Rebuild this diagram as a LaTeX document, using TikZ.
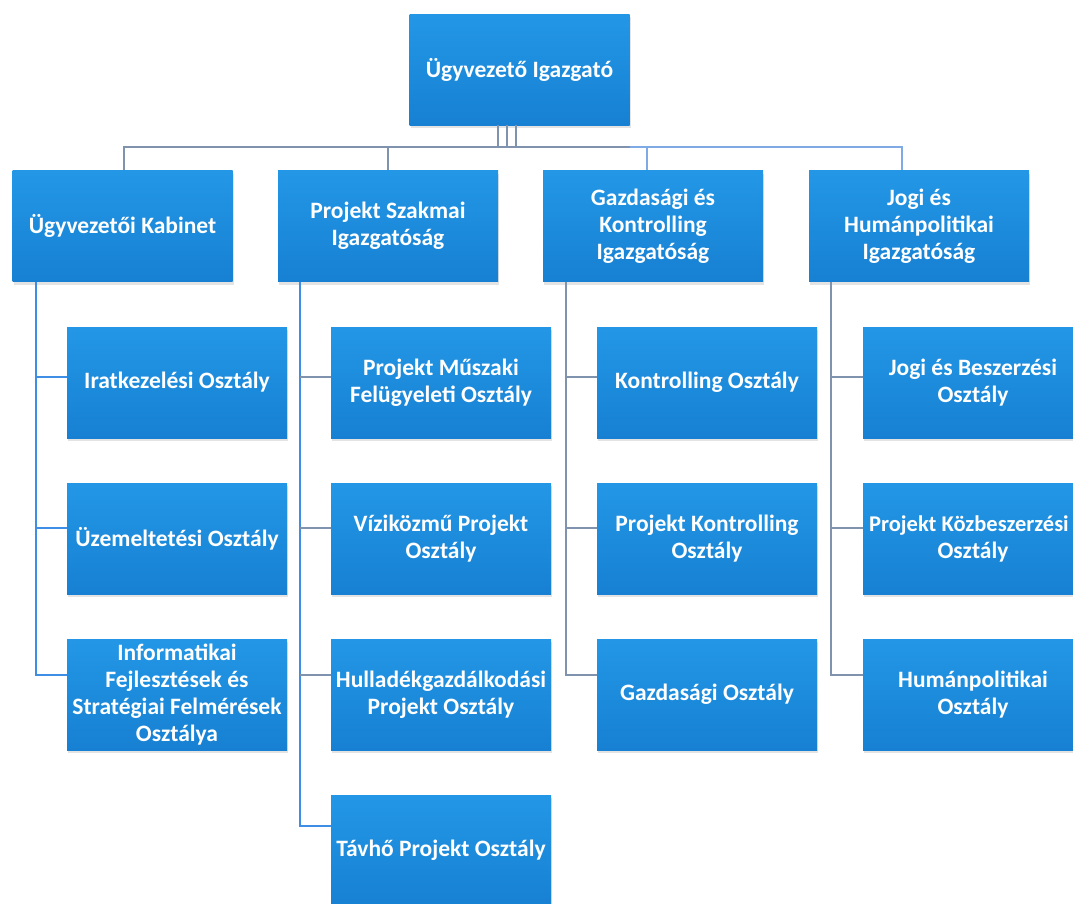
\documentclass[tikz,border=0pt]{standalone}
\usepackage{fontspec}
\setmainfont{Carlito}
\usetikzlibrary{shadows}
\definecolor{boxtop}{HTML}{2397E6}
\definecolor{boxbot}{HTML}{1780D2}
\definecolor{lgray}{HTML}{7F93AE}
\definecolor{lblue}{HTML}{7FAAE6}
\definecolor{vblue}{HTML}{3E8EE6}
\tikzset{
  orgbox/.style={rectangle, minimum width=220pt, minimum height=111pt, inner sep=1pt,
    top color=boxtop, bottom color=boxbot, text=white, align=center,
    font=\bfseries\fontsize{23.5}{27}\selectfont,
    drop shadow={opacity=0.22, shadow xshift=1pt, shadow yshift=-3pt}},
  conn/.style={draw=lgray, line width=1.2pt},
  connlight/.style={draw=lblue, line width=2pt},
  vline/.style={draw=vblue, line width=2pt},
  gline/.style={draw=lgray, line width=1.6pt},
  tick/.style={draw=lgray, line width=1.2pt},
  btick/.style={draw=vblue, line width=2pt}
}
\begin{document}
\begin{tikzpicture}[x=1pt, y=-1pt]
\useasboundingbox (0,0) rectangle (1073,903);
\fill[white] (0,0) rectangle (1073,903);

% top
\node[orgbox] (top) at (519.5,69.5) {Ügyvezető Igazgató};
% level 1
\node[orgbox] (b1) at (122.5,226) {Ügyvezetői Kabinet};
\node[orgbox] (b2) at (388,226) {Projekt Szakmai\\Igazgatóság};
\node[orgbox] (b3) at (653,226) {Gazdasági és\\Kontrolling\\Igazgatóság};
\node[orgbox] (b4) at (919,226) {Jogi és\\Humánpolitikai\\Igazgatóság};

% column 1
\node[orgbox] (c11) at (177,382.5) {Iratkezelési Osztály};
\node[orgbox] (c12) at (177,538.5) {Üzemeltetési Osztály};
\node[orgbox] (c13) at (177,694.5) {Informatikai\\Fejlesztések és\\Stratégiai Felmérések\\Osztálya};
% column 2
\node[orgbox] (c21) at (441,382.5) {Projekt Műszaki\\Felügyeleti Osztály};
\node[orgbox] (c22) at (441,538.5) {Víziközmű Projekt\\Osztály};
\node[orgbox] (c23) at (441,694.5) {Hulladékgazdálkodási\\Projekt Osztály};
\node[orgbox] (c24) at (441,850.5) {Távhő Projekt Osztály};
% column 3
\node[orgbox] (c31) at (707,382.5) {Kontrolling Osztály};
\node[orgbox] (c32) at (707,538.5) {Projekt Kontrolling\\Osztály};
\node[orgbox] (c33) at (707,694.5) {Gazdasági Osztály};
% column 4
\node[orgbox] (c41) at (973,382.5) {Jogi és Beszerzési\\Osztály};
\node[orgbox] (c42) at (973,538.5) {\hspace*{-8pt}{\fontsize{22.5}{27}\selectfont Projekt Közbeszerzési}\\Osztály};
\node[orgbox] (c43) at (973,694.5) {Humánpolitikai\\Osztály};

% top connectors
\coordinate (j1) at (498,147);
\coordinate (j2) at (507,147);
\coordinate (j3) at (516,147);
\coordinate (jr) at (630,147);
\draw[conn] ([xshift=-21.5pt]top.south) -- (j1);
\draw[conn] ([xshift=-12.5pt]top.south) -- (j2);
\draw[conn] ([xshift=-3.5pt]top.south) -- (j3);
\draw[conn] (jr) -| ([xshift=1.5pt]b1.north);
\draw[conn] (b2.north |- jr) -- (b2.north);
\draw[connlight] (jr) -| ([xshift=-17pt]b4.north);
\draw[connlight] ([xshift=-6pt]b3.north |- jr) -- ([xshift=-6pt]b3.north);

% column 1 connectors
\draw[vline] ([xshift=-86.5pt]b1.south) |- ([yshift=19.5pt]c13.west);
\draw[btick] ([yshift=5.5pt]c11.west) -- ++(-31,0);
\draw[btick] ([yshift=10.5pt]c12.west) -- ++(-31,0);
% column 2 connectors
\draw[vline] ([xshift=-88pt]b2.south) |- ([yshift=24.5pt]c24.west);
\draw[tick] ([yshift=5.5pt]c21.west) -- ++(-31,0);
\draw[tick] ([yshift=10.5pt]c22.west) -- ++(-31,0);
\draw[tick] ([yshift=19.5pt]c23.west) -- ++(-31,0);
% column 3 connectors
\draw[gline] ([xshift=-87pt]b3.south) |- ([yshift=19.5pt]c33.west);
\draw[tick] ([yshift=5.5pt]c31.west) -- ++(-31,0);
\draw[tick] ([yshift=10.5pt]c32.west) -- ++(-31,0);
% column 4 connectors
\draw[gline] ([xshift=-88pt]b4.south) |- ([yshift=19.5pt]c43.west);
\draw[tick] ([yshift=5.5pt]c41.west) -- ++(-32,0);
\draw[tick] ([yshift=10.5pt]c42.west) -- ++(-32,0);
\end{tikzpicture}
\end{document}
